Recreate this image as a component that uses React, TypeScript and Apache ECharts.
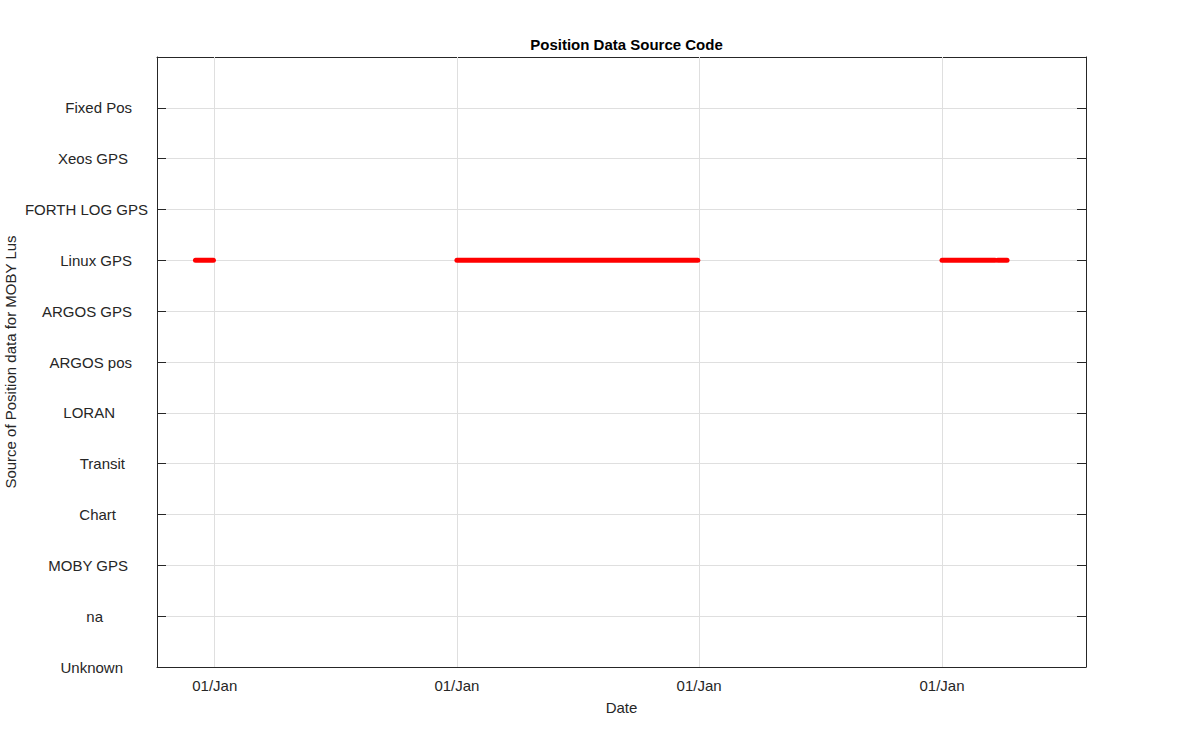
import React, { useEffect, useRef } from "react";
import * as echarts from "echarts";

const categories = [
  "Unknown",
  "na",
  "MOBY GPS",
  "Chart",
  "Transit",
  "LORAN",
  "ARGOS pos",
  "ARGOS GPS",
  "Linux GPS",
  "FORTH LOG GPS",
  "Xeos GPS",
  "Fixed Pos",
];
const yearTicks = ["2014-01-01", "2015-01-01", "2016-01-01", "2017-01-01"];
const xRange = ["2013-10-06", "2017-08-06"];
const linuxGpsPeriods = [
  ["2013-12-03", "2013-12-30"],
  ["2015-01-01", "2015-12-30"],
  ["2017-01-01", "2017-03-22"],
  ["2017-03-26", "2017-04-09"],
];
const sourceName = "Linux GPS";

// label styling: right padding (px) per category label, as in the reference's ragged label layout
const labelPadRight: Record<string, number> = {
  Unknown: 25,
  na: 45,
  "MOBY GPS": 20,
  Chart: 32,
  Transit: 23,
  LORAN: 33,
  "ARGOS pos": 16,
  "ARGOS GPS": 16,
  "Linux GPS": 16,
  "FORTH LOG GPS": 0,
  "Xeos GPS": 20,
  "Fixed Pos": 16,
};

const ts = (s: string) => new Date(s + "T00:00:00Z").getTime();
const MONTHS = ["Jan", "Feb", "Mar", "Apr", "May", "Jun", "Jul", "Aug", "Sep", "Oct", "Nov", "Dec"];
const fmtDate = (v: number) => {
  const d = new Date(v);
  return String(d.getUTCDate()).padStart(2, "0") + "/" + MONTHS[d.getUTCMonth()];
};

const FONT = "'Liberation Sans', Arial, Helvetica, sans-serif";
const AX = "#262626";
const GRID = "#dfdfdf";
const FS = 15;

export default function App() {
  const ref = useRef<HTMLDivElement>(null);
  useEffect(() => {
    if (!ref.current) return;
    const chart = echarts.init(ref.current, undefined, { renderer: "svg" });
    const tickVals = yearTicks.map(ts);
    const yVal = categories.indexOf(sourceName);
    const rich: Record<string, any> = {};
    categories.forEach((c, i) => {
      rich["c" + i] = {
        fontFamily: FONT,
        fontSize: FS,
        color: AX,
        padding: [0, labelPadRight[c] ?? 0, 0, 0],
      };
    });
    const dataSeries = linuxGpsPeriods.map(([a, b], i) => ({
      type: "line",
      name: "p" + i,
      xAxisIndex: 0,
      yAxisIndex: 0,
      data: [
        [ts(a), yVal],
        [ts(b), yVal],
      ],
      symbol: "none",
      z: 5,
      lineStyle: { color: "#ff0000", width: 5, cap: "round" },
      silent: true,
    }));
    const option: any = {
      animation: false,
      textStyle: { fontFamily: FONT },
      title: {
        text: "Position Data Source Code",
        left: 621.5,
        textAlign: "center",
        top: 32,
        textStyle: { fontFamily: FONT, fontSize: FS, fontWeight: "bold", color: "#000" },
      },
      grid: {
        left: 157,
        right: 114,
        top: 57,
        bottom: 83,
        containLabel: false,
        outerBoundsMode: "none",
      },
      xAxis: [
        {
          type: "value",
          position: "bottom",
          min: ts(xRange[0]),
          max: ts(xRange[1]),
          name: "Date",
          nameLocation: "middle",
          nameGap: 33,
          nameMoveOverlap: false,
          nameTextStyle: { fontFamily: FONT, fontSize: FS, color: AX },
          axisLine: { show: true, onZero: false, lineStyle: { color: AX, width: 1 } },
          axisTick: { show: true, inside: true, length: 9, customValues: tickVals, lineStyle: { color: AX } },
          axisLabel: {
            customValues: tickVals,
            formatter: (v: number) => fmtDate(v),
            fontFamily: FONT,
            fontSize: FS,
            color: AX,
            margin: 11,
          },
          splitLine: { show: false },
        },
        {
          type: "value",
          position: "top",
          min: ts(xRange[0]),
          max: ts(xRange[1]),
          axisLine: { show: true, onZero: false, lineStyle: { color: AX, width: 1 } },
          axisTick: { show: true, inside: true, length: 9, customValues: tickVals, lineStyle: { color: AX } },
          axisLabel: { show: false },
          splitLine: { show: false },
        },
      ],
      yAxis: [
        {
          type: "value",
          position: "left",
          min: 0,
          max: 12,
          interval: 1,
          name: "Source of Position data for MOBY Lus",
          nameLocation: "middle",
          nameGap: 139,
          nameMoveOverlap: false,
          nameTextStyle: { fontFamily: FONT, fontSize: FS, color: AX },
          axisLine: { show: true, onZero: false, lineStyle: { color: AX, width: 1 } },
          axisTick: { show: true, inside: true, length: 9, lineStyle: { color: AX } },
          axisLabel: {
            formatter: (v: number) => (categories[v] !== undefined ? `{c${v}|${categories[v]}}` : ""),
            fontFamily: FONT,
            fontSize: FS,
            color: AX,
            align: "right",
            margin: 9,
            rich,
          },
          splitLine: { show: true, lineStyle: { color: GRID, width: 1 } },
        },
        {
          type: "value",
          position: "right",
          min: 0,
          max: 12,
          interval: 1,
          axisLine: { show: true, onZero: false, lineStyle: { color: AX, width: 1 } },
          axisTick: { show: true, inside: true, length: 9, lineStyle: { color: AX } },
          axisLabel: { show: false },
          splitLine: { show: false },
        },
      ],
      series: [
        {
          type: "line",
          name: "grid",
          xAxisIndex: 0,
          yAxisIndex: 0,
          data: [],
          z: 1,
          silent: true,
          markLine: {
            silent: true,
            symbol: ["none", "none"],
            label: { show: false },
            lineStyle: { color: GRID, width: 1, type: "solid" },
            data: tickVals.map((t) => ({ xAxis: t })),
          },
        },
        ...dataSeries,
      ],
    };
    chart.setOption(option);
    return () => chart.dispose();
  }, []);
  return (
    <div
      ref={ref}
      style={{ position: "fixed", left: 0, top: 0, width: 1200, height: 750, background: "#fff" }}
    />
  );
}
